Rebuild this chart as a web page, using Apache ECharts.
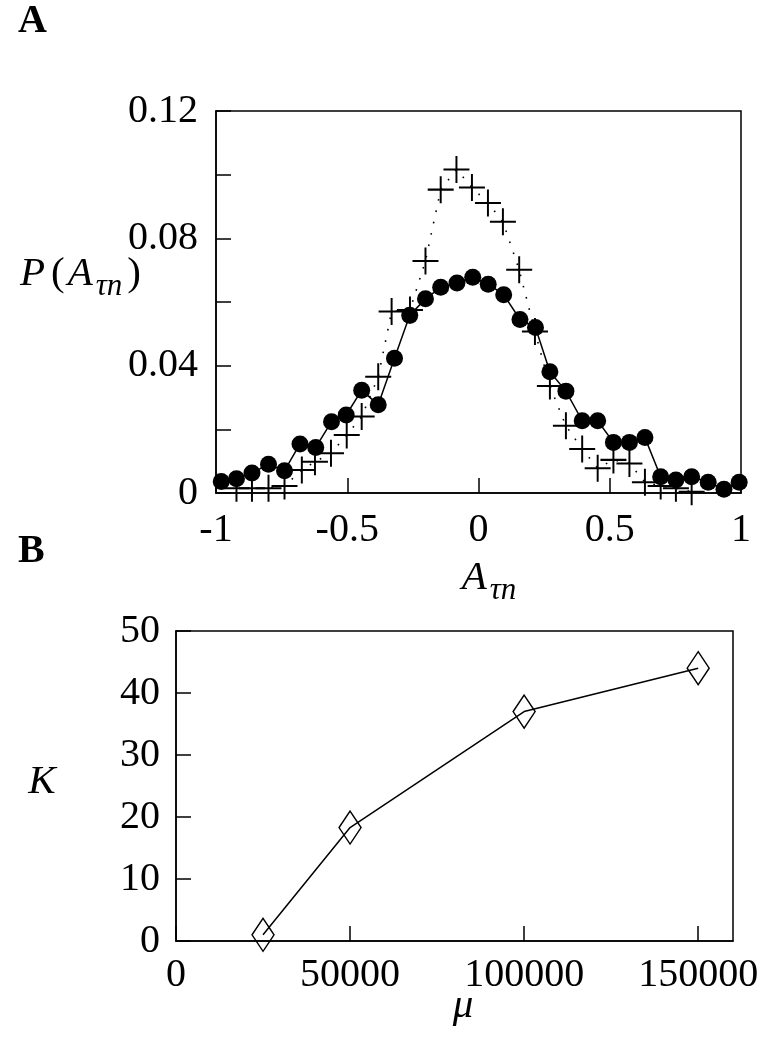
<!DOCTYPE html>
<html>
<head>
<meta charset="utf-8">
<script src="https://cdn.jsdelivr.net/npm/echarts@6/dist/echarts.min.js"></script>
<style>
html,body{margin:0;padding:0;background:#fff;}
#chart{width:775px;height:1050px;}
</style>
</head>
<body>
<div id="chart"></div>
<script>
// ---- Panel A data ----
const circX = [-0.98, -0.922, -0.863, -0.80, -0.739, -0.68, -0.62, -0.56, -0.504, -0.445, -0.382, -0.32, -0.262, -0.202, -0.144, -0.082, -0.022, 0.037, 0.096, 0.158, 0.217, 0.272, 0.333, 0.395, 0.454, 0.514, 0.575, 0.634, 0.694, 0.752, 0.812, 0.875, 0.935, 0.993];
const circY = [0.0036, 0.0045, 0.0063, 0.009, 0.007, 0.0154, 0.0143, 0.0224, 0.0245, 0.0323, 0.0277, 0.0423, 0.0558, 0.061, 0.0646, 0.066, 0.0678, 0.0656, 0.0623, 0.0545, 0.052, 0.0381, 0.032, 0.0227, 0.0227, 0.0159, 0.0159, 0.0174, 0.0051, 0.0041, 0.0051, 0.0034, 0.0012, 0.0034];
const crossX = [-0.922, -0.863, -0.80, -0.739, -0.673, -0.623, -0.562, -0.502, -0.445, -0.382, -0.331, -0.261, -0.202, -0.144, -0.084, -0.025, 0.036, 0.093, 0.155, 0.215, 0.272, 0.333, 0.395, 0.454, 0.514, 0.575, 0.634, 0.694, 0.752, 0.812];
const crossY = [0.0015, 0.0015, 0.0015, 0.0022, 0.0072, 0.0098, 0.0125, 0.0182, 0.024, 0.0365, 0.057, 0.0575, 0.0729, 0.0953, 0.1016, 0.096, 0.0911, 0.0852, 0.0701, 0.0507, 0.0336, 0.0211, 0.0138, 0.0078, 0.0104, 0.0093, 0.0034, 0.0022, 0.0015, 0.0004];
const xTickValsA = [-1, -0.5, 0, 0.5, 1];
const xTickLabelsA = ['-1', '-0.5', '0', '0.5', '1'];
const yTickValsA = [0, 0.04, 0.08, 0.12];
const yTickLabelsA = ['0', '0.04', '0.08', '0.12'];

// ---- Panel B data ----
const muVals = [25000, 50000, 100000, 150000];
const kVals = [1, 18.3, 37, 44];
const xTickValsB = [0, 50000, 100000, 150000];
const xTickLabelsB = ['0', '50000', '100000', '150000'];
const yTickValsB = [0, 10, 20, 30, 40, 50];
const yTickLabelsB = ['0', '10', '20', '30', '40', '50'];

function labelFrom(vals, labels) {
  return function (v) {
    const i = vals.findIndex(t => Math.abs(t - v) < 1e-9 * Math.max(1, Math.abs(t)));
    return i >= 0 ? labels[i] : '';
  };
}

const FONT = 'Liberation Serif';
const BLACK = '#000';
const tickStyle = { show: true, inside: true, length: 15, lineStyle: { color: BLACK, width: 1.5 } };
const lineAx = { show: true, onZero: false, lineStyle: { color: BLACK, width: 1.5 } };
const lblStyle = { color: BLACK, fontFamily: FONT, fontSize: 40 };

const crossSymbol = 'path://M13,0V26M0,13H26';

const mainRich = {
  i: { fontFamily: FONT, fontStyle: 'italic', fontSize: 41, fill: BLACK, padding: [0, 3, 0, 0] },
  n: { fontFamily: FONT, fontSize: 41, fill: BLACK, padding: [0, 3, 0, 3] },
  s: { fontFamily: FONT, fontStyle: 'italic', fontSize: 31, fill: BLACK, padding: [26, 2, 0, 0] }
};

const chart = echarts.init(document.getElementById('chart'), null, { renderer: 'canvas' });
chart.setOption({
  backgroundColor: '#fff',
  animation: false,
  grid: [
    { left: 216, right: 34, top: 111, height: 382, show: true, borderColor: BLACK, borderWidth: 1.5, backgroundColor: 'transparent' },
    { left: 176, right: 42, top: 631, height: 310, show: true, borderColor: BLACK, borderWidth: 1.5, backgroundColor: 'transparent' }
  ],
  xAxis: [
    {
      gridIndex: 0, type: 'value', min: -1, max: 1, interval: 0.5,
      axisLine: lineAx, axisTick: tickStyle, splitLine: { show: false },
      axisLabel: Object.assign({ margin: 17, formatter: labelFrom(xTickValsA, xTickLabelsA) }, lblStyle)
    },
    {
      gridIndex: 1, type: 'value', min: 0, max: 160000, interval: 50000,
      axisLine: lineAx, axisTick: tickStyle, splitLine: { show: false },
      axisLabel: Object.assign({ margin: 14, showMaxLabel: false, formatter: labelFrom(xTickValsB, xTickLabelsB) }, lblStyle)
    }
  ],
  yAxis: [
    {
      gridIndex: 0, type: 'value', min: 0, max: 0.12, interval: 0.02,
      axisLine: lineAx, axisTick: tickStyle, splitLine: { show: false },
      axisLabel: Object.assign({ margin: 18, formatter: labelFrom(yTickValsA, yTickLabelsA) }, lblStyle)
    },
    {
      gridIndex: 1, type: 'value', min: 0, max: 50, interval: 10,
      axisLine: lineAx, axisTick: tickStyle, splitLine: { show: false },
      axisLabel: Object.assign({ margin: 16, formatter: labelFrom(yTickValsB, yTickLabelsB) }, lblStyle)
    }
  ],
  series: [
    {
      type: 'line', xAxisIndex: 0, yAxisIndex: 0,
      data: crossX.map((x, i) => [x, crossY[i]]),
      symbol: crossSymbol, symbolSize: [26, 27],
      itemStyle: { color: 'none', borderColor: BLACK, borderWidth: 2 },
      lineStyle: { color: BLACK, width: 1.6, type: [1.6, 10] },
      clip: false, z: 3
    },
    {
      type: 'line', xAxisIndex: 0, yAxisIndex: 0,
      data: circX.map((x, i) => [x, circY[i]]),
      symbol: 'circle', symbolSize: 17,
      itemStyle: { color: BLACK, borderWidth: 0 },
      lineStyle: { color: BLACK, width: 1.5 },
      clip: false, z: 2
    },
    {
      type: 'line', xAxisIndex: 1, yAxisIndex: 1,
      data: muVals.map((x, i) => [x, kVals[i]]),
      symbol: 'diamond', symbolSize: [22, 33],
      itemStyle: { color: 'rgba(0,0,0,0)', borderColor: BLACK, borderWidth: 1.5 },
      lineStyle: { color: BLACK, width: 1.5 },
      clip: false
    }
  ],
  graphic: [
    { type: 'text', x: 18, y: 22, style: { text: 'A', fontFamily: FONT, fontWeight: 'bold', fontSize: 40, fill: BLACK, align: 'left', verticalAlign: 'middle' } },
    { type: 'text', x: 18, y: 552, style: { text: 'B', fontFamily: FONT, fontWeight: 'bold', fontSize: 40, fill: BLACK, align: 'left', verticalAlign: 'middle' } },
    {
      type: 'text', x: 20, y: 274,
      style: { text: '{i|P}{n|(}{i|A}{s|τn}{n|)}', align: 'left', verticalAlign: 'middle', fill: BLACK, rich: mainRich }
    },
    {
      type: 'text', x: 490, y: 578,
      style: { text: '{i|A}{s|τn}', align: 'center', verticalAlign: 'middle', fill: BLACK, rich: mainRich }
    },
    { type: 'text', x: 42, y: 782, style: { text: 'K', fontFamily: FONT, fontStyle: 'italic', fontSize: 41, fill: BLACK, align: 'center', verticalAlign: 'middle' } },
    { type: 'text', x: 463, y: 1006, style: { text: 'μ', fontFamily: FONT, fontStyle: 'italic', fontSize: 41, fill: BLACK, align: 'center', verticalAlign: 'middle' } }
  ]
});
</script>
</body>
</html>
